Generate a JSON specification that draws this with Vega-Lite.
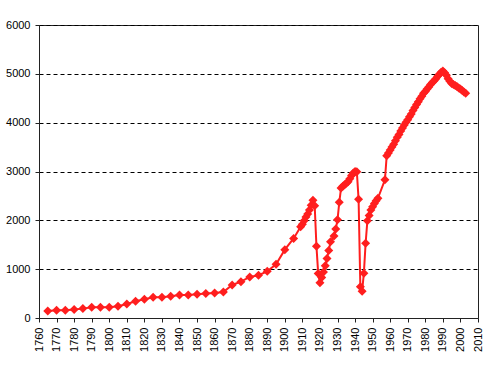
{
  "$schema": "https://vega.github.io/schema/vega-lite/v6.json",
  "width": 439,
  "height": 293,
  "autosize": "none",
  "padding": {"left": 39, "top": 25, "right": 15, "bottom": 49},
  "background": "white",
  "config": {
    "view": {"stroke": "#222", "strokeWidth": 1},
    "font": "Liberation Sans"
  },
  "data": {
    "values": [
      {"year": 1765, "pop": 145}, {"year": 1770, "pop": 158}, {"year": 1775, "pop": 160},
      {"year": 1780, "pop": 172}, {"year": 1785, "pop": 192}, {"year": 1790, "pop": 218},
      {"year": 1795, "pop": 220}, {"year": 1800, "pop": 220}, {"year": 1805, "pop": 242},
      {"year": 1810, "pop": 287}, {"year": 1815, "pop": 342}, {"year": 1820, "pop": 383},
      {"year": 1825, "pop": 424}, {"year": 1830, "pop": 426}, {"year": 1835, "pop": 446},
      {"year": 1840, "pop": 471}, {"year": 1845, "pop": 473}, {"year": 1850, "pop": 488},
      {"year": 1855, "pop": 500}, {"year": 1860, "pop": 510}, {"year": 1865, "pop": 530},
      {"year": 1870, "pop": 676}, {"year": 1875, "pop": 744}, {"year": 1880, "pop": 840},
      {"year": 1885, "pop": 876}, {"year": 1890, "pop": 956}, {"year": 1895, "pop": 1100},
      {"year": 1900, "pop": 1400}, {"year": 1905, "pop": 1630}, {"year": 1909, "pop": 1870},
      {"year": 1910, "pop": 1920}, {"year": 1911, "pop": 1990}, {"year": 1912, "pop": 2070},
      {"year": 1913, "pop": 2130}, {"year": 1914, "pop": 2210}, {"year": 1915, "pop": 2310},
      {"year": 1916, "pop": 2410}, {"year": 1917, "pop": 2300}, {"year": 1918, "pop": 1470},
      {"year": 1919, "pop": 910}, {"year": 1920, "pop": 722}, {"year": 1921, "pop": 830},
      {"year": 1922, "pop": 940}, {"year": 1923, "pop": 1070}, {"year": 1924, "pop": 1220},
      {"year": 1925, "pop": 1380}, {"year": 1926, "pop": 1560}, {"year": 1928, "pop": 1680},
      {"year": 1929, "pop": 1820}, {"year": 1930, "pop": 2010}, {"year": 1931, "pop": 2370},
      {"year": 1932, "pop": 2660}, {"year": 1933, "pop": 2700}, {"year": 1934, "pop": 2730},
      {"year": 1935, "pop": 2760}, {"year": 1936, "pop": 2790}, {"year": 1937, "pop": 2850},
      {"year": 1938, "pop": 2920}, {"year": 1939, "pop": 2970}, {"year": 1940, "pop": 3000},
      {"year": 1941, "pop": 2995}, {"year": 1942, "pop": 2430}, {"year": 1943, "pop": 640},
      {"year": 1944, "pop": 550}, {"year": 1945, "pop": 915}, {"year": 1946, "pop": 1530},
      {"year": 1947, "pop": 1990}, {"year": 1948, "pop": 2100}, {"year": 1949, "pop": 2210},
      {"year": 1950, "pop": 2280}, {"year": 1951, "pop": 2345}, {"year": 1952, "pop": 2400},
      {"year": 1953, "pop": 2450}, {"year": 1957, "pop": 2830}, {"year": 1958, "pop": 3320},
      {"year": 1959, "pop": 3380}, {"year": 1960, "pop": 3440}, {"year": 1961, "pop": 3500},
      {"year": 1962, "pop": 3560}, {"year": 1963, "pop": 3630}, {"year": 1964, "pop": 3700},
      {"year": 1965, "pop": 3760}, {"year": 1966, "pop": 3830}, {"year": 1967, "pop": 3890},
      {"year": 1968, "pop": 3950}, {"year": 1969, "pop": 4010}, {"year": 1970, "pop": 4060},
      {"year": 1971, "pop": 4120}, {"year": 1972, "pop": 4180}, {"year": 1973, "pop": 4250},
      {"year": 1974, "pop": 4310}, {"year": 1975, "pop": 4370}, {"year": 1976, "pop": 4430},
      {"year": 1977, "pop": 4490}, {"year": 1978, "pop": 4540}, {"year": 1979, "pop": 4600},
      {"year": 1980, "pop": 4640}, {"year": 1981, "pop": 4690}, {"year": 1982, "pop": 4730},
      {"year": 1983, "pop": 4780}, {"year": 1984, "pop": 4820}, {"year": 1985, "pop": 4860},
      {"year": 1986, "pop": 4900}, {"year": 1987, "pop": 4950}, {"year": 1988, "pop": 4990},
      {"year": 1989, "pop": 5030}, {"year": 1990, "pop": 5060}, {"year": 1991, "pop": 5020},
      {"year": 1992, "pop": 4970}, {"year": 1993, "pop": 4900}, {"year": 1994, "pop": 4850},
      {"year": 1995, "pop": 4800}, {"year": 1996, "pop": 4780}, {"year": 1997, "pop": 4760},
      {"year": 1998, "pop": 4740}, {"year": 1999, "pop": 4710}, {"year": 2000, "pop": 4690},
      {"year": 2001, "pop": 4660}, {"year": 2002, "pop": 4630}, {"year": 2003, "pop": 4600}
    ]
  },
  "encoding": {
    "x": {
      "field": "year", "type": "quantitative",
      "scale": {"domain": [1760, 2010], "nice": false, "zero": false},
      "axis": {
        "title": null, "values": [1760,1770,1780,1790,1800,1810,1820,1830,1840,1850,1860,1870,1880,1890,1900,1910,1920,1930,1940,1950,1960,1970,1980,1990,2000,2010],
        "format": "d", "labelAngle": -90, "grid": false,
        "domainColor": "#222", "tickColor": "#222", "tickSize": 4,
        "labelPadding": 5, "labelFont": "Liberation Sans", "labelFontSize": 11, "labelColor": "#000",
        "labelOverlap": false, "labelFlush": false
      }
    },
    "y": {
      "field": "pop", "type": "quantitative",
      "scale": {"domain": [0, 6000], "nice": false},
      "axis": {
        "title": null, "values": [0,1000,2000,3000,4000,5000,6000], "format": "d",
        "grid": true, "gridColor": "#000", "gridDash": [4, 3], "gridWidth": 1,
        "domainColor": "#222", "tickColor": "#222", "tickSize": 4,
        "labelPadding": 5, "labelFont": "Liberation Sans", "labelFontSize": 11, "labelColor": "#000",
        "labelFlush": false
      }
    }
  },
  "layer": [
    {"mark": {"type": "line", "color": "#ff1e1e", "strokeWidth": 2}},
    {"mark": {"type": "point", "shape": "diamond", "filled": true, "size": 81, "color": "#ff1e1e", "opacity": 1}}
  ]
}
